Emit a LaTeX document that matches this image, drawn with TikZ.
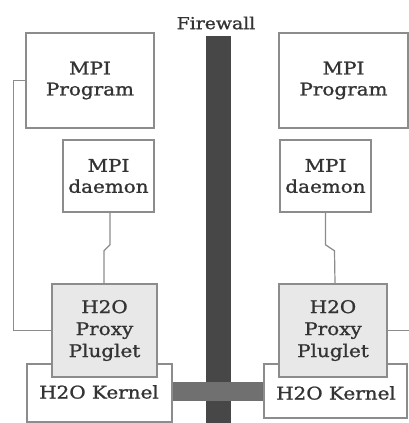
\documentclass[tikz,border=0pt]{standalone}
\usepackage{fontspec}
\setmainfont{DejaVu Serif}[FakeStretch=1.14,FakeBold=1.2]
\begin{document}
\begin{tikzpicture}[x=1pt,y=-1pt,
  box/.style={draw=black!45,line width=1.6pt,fill=white,inner sep=0pt,align=center,
    text=black!80,font=\fontsize{17.5}{21}\selectfont},
  plug/.style={box,fill=black!9,font=\fontsize{17.5}{22}\selectfont},
  link/.style={draw=black!45,line width=1.2pt}]
\useasboundingbox (0,0) rectangle (409,423);
\fill[white] (0,0) rectangle (409,423);

% firewall
\fill[black!72] (205.5,36) rectangle (230.5,423);
\node (fw) at (216,23) {\fontsize{16.5}{18}\selectfont\color{black!80}Firewall};

% left host
\node[box,minimum width=128pt,minimum height=95pt] (lprog) at (90,80.5) {MPI\\Program};
\node[box,minimum width=91pt,minimum height=72pt] (ldae) at (108.5,176) {MPI\\daemon};
\node[box,minimum width=145pt,minimum height=58pt] (lker) at (99.5,393) {};
\node at (99,392) {\fontsize{17.5}{21}\selectfont\color{black!80}H2O Kernel};
\node[plug,minimum width=105pt,minimum height=93pt] (lplug) at (104.5,330.5) {H2O\\Proxy\\Pluglet};

% right host
\node[box,minimum width=129pt,minimum height=95pt] (rprog) at (343.5,80.5) {MPI\\Program};
\node[box,minimum width=91pt,minimum height=72pt] (rdae) at (325.5,176) {MPI\\daemon};
\node[box,minimum width=143pt,minimum height=54pt] (rker) at (335.5,391) {};
\node at (336,393) {\fontsize{17.5}{21}\selectfont\color{black!80}H2O Kernel};
\node[plug,minimum width=108pt,minimum height=93pt] (rplug) at (333,330.5) {H2O\\Proxy\\Pluglet};

% link between the kernels across the firewall
\fill[black!56] (lker.east |- 0,382) rectangle (rker.west |- 0,401);

% connectors
\coordinate (redge1) at (409,80.5);
\coordinate (redge2) at (409,330.5);
\draw[link] (lprog.west) -- ++(-12,0) |- (lplug.west);
\draw[link] ([xshift=1.5pt]ldae.south) -- ++(0,32) -- ++(-6,6) -- ([xshift=-0.5pt]lplug.north);
\draw[link] (rdae.south) -- ++(0,32) -- ++(9,6) -- ([xshift=2pt]rplug.north);
\draw[link] (rprog.east) -- (redge1);
\draw[link] (rplug.east) -- (redge2);
\end{tikzpicture}
\end{document}
